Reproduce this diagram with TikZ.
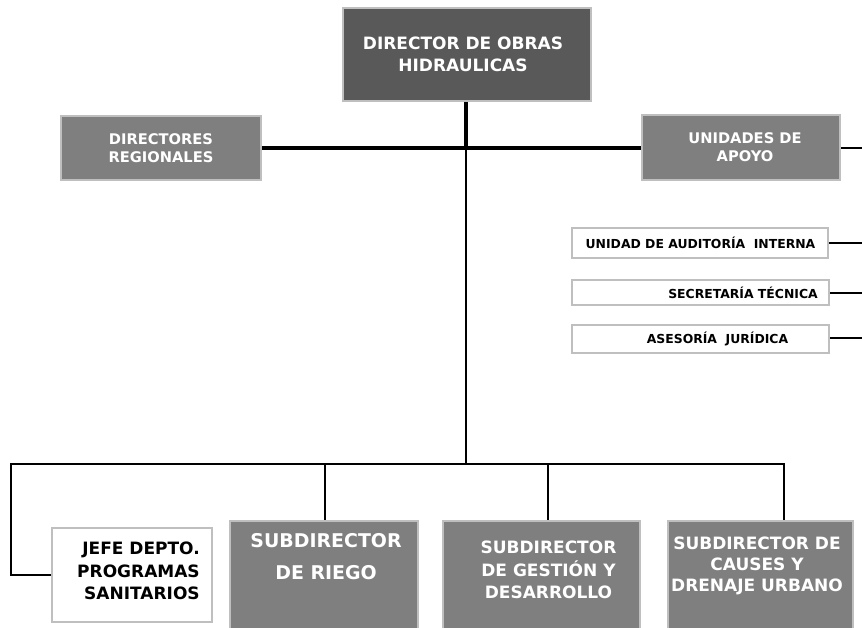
\documentclass[tikz,border=0pt]{standalone}
\usepackage{fontspec}
\setmainfont{DejaVu Sans}
\definecolor{darkfill}{HTML}{595959}
\definecolor{midfill}{HTML}{7F7F7F}
\definecolor{boxline}{HTML}{BFBFBF}
\begin{document}
\begin{tikzpicture}[x=0.75pt,y=-0.75pt,
  box/.style={rectangle, draw=boxline, line width=1.5pt, inner sep=0pt},
  darkbox/.style={box, fill=darkfill},
  midbox/.style={box, fill=midfill},
  whitebox/.style={box, fill=white},
  lbl/.style={inner sep=0pt, align=center, text=white},
  blbl/.style={inner sep=0pt, text=black},
  thickline/.style={line width=2.3pt, draw=black},
  thinline/.style={line width=1.1pt, draw=black}]
\useasboundingbox (0,0) rectangle (862,627);
\clip (0,0) rectangle (862,627);
% boxes
\node[darkbox, minimum width=186pt, minimum height=69.75pt] (dir) at (467,54.5) {};
\node[midbox, minimum width=150pt, minimum height=48pt] (reg) at (161,148) {};
\node[midbox, minimum width=148.5pt, minimum height=48.75pt] (uni) at (741,148) {};
\node[whitebox, minimum width=192pt, minimum height=22.5pt] (aud) at (700,243) {};
\node[whitebox, minimum width=192.75pt, minimum height=18.75pt] (sec) at (700.5,292.5) {};
\node[whitebox, minimum width=192.75pt, minimum height=21pt] (ase) at (700.5,339) {};
\node[whitebox, minimum width=120pt, minimum height=70.5pt] (jefe) at (132,575) {};
\node[midbox, minimum width=141pt, minimum height=104.25pt] (riego) at (324,590.5) {};
\node[midbox, minimum width=147.75pt, minimum height=104.25pt] (gest) at (541.5,590.5) {};
\node[midbox, minimum width=138.75pt, minimum height=104.25pt] (caus) at (760.5,590.5) {};
% labels
\node[lbl, font=\fontsize{12.75pt}{16.5pt}\selectfont\bfseries] (tdir) at (463,54) {DIRECTOR DE OBRAS\\HIDRAULICAS};
\node[lbl, font=\fontsize{11pt}{13.5pt}\selectfont\bfseries] (treg) at (161,148) {DIRECTORES\\REGIONALES};
\node[lbl, font=\fontsize{11pt}{13.5pt}\selectfont\bfseries] (tuni) at (745,147.5) {UNIDADES DE\\APOYO};
\node[blbl, font=\fontsize{9.3pt}{11pt}\selectfont\bfseries] (taud) at (700.5,243) {UNIDAD DE AUDITORÍA~~INTERNA};
\node[blbl, font=\fontsize{9.3pt}{11pt}\selectfont\bfseries] (tsec) at (743,292.5) {SECRETARÍA TÉCNICA};
\node[blbl, font=\fontsize{9.3pt}{11pt}\selectfont\bfseries] (tase) at (717.5,339) {ASESORÍA~~JURÍDICA};
\node[blbl, align=right, anchor=east, font=\fontsize{12.75pt}{16.9pt}\selectfont\bfseries] (tjefe) at (200,571) {JEFE DEPTO.\\PROGRAMAS\\SANITARIOS};
\node[lbl, font=\fontsize{14.2pt}{24pt}\selectfont\bfseries] (triego) at (326,557) {SUBDIRECTOR\\DE RIEGO};
\node[lbl, font=\fontsize{12.75pt}{17pt}\selectfont\bfseries] (tgest) at (548.5,570) {SUBDIRECTOR\\DE GESTIÓN Y\\DESARROLLO};
\node[lbl, font=\fontsize{12.75pt}{16pt}\selectfont\bfseries] (tcaus) at (757,566) {SUBDIRECTOR DE\\CAUSES Y\\DRENAJE URBANO};
% junction coordinates
\coordinate (j1) at (466,148);
\coordinate (bus) at (466,464);
\coordinate (busL) at (11,464);
\coordinate (busR) at (784,464);
\coordinate (dr) at (325,464);
\coordinate (dg) at (548,464);
\coordinate (eu) at (862,148);
\coordinate (ea) at (862,243);
\coordinate (es) at (862,293);
\coordinate (ee) at (862,338);
% connectors
\draw[thickline] (dir.south -| j1) -- (j1);
\draw[thickline] (reg.east) -- (uni.west);
\draw[thinline] (j1) -- (bus);
\draw[thinline] (jefe.west) -| (busL) -- (busR) -- (busR |- caus.north);
\draw[thinline] (dr) -- (dr |- riego.north);
\draw[thinline] (dg) -- (dg |- gest.north);
\draw[thinline] (uni.east) -- (eu);
\draw[thinline] (aud.east) -- (ea);
\draw[thinline] (sec.east |- es) -- (es);
\draw[thinline] (ase.east |- ee) -- (ee);
\end{tikzpicture}
\end{document}
